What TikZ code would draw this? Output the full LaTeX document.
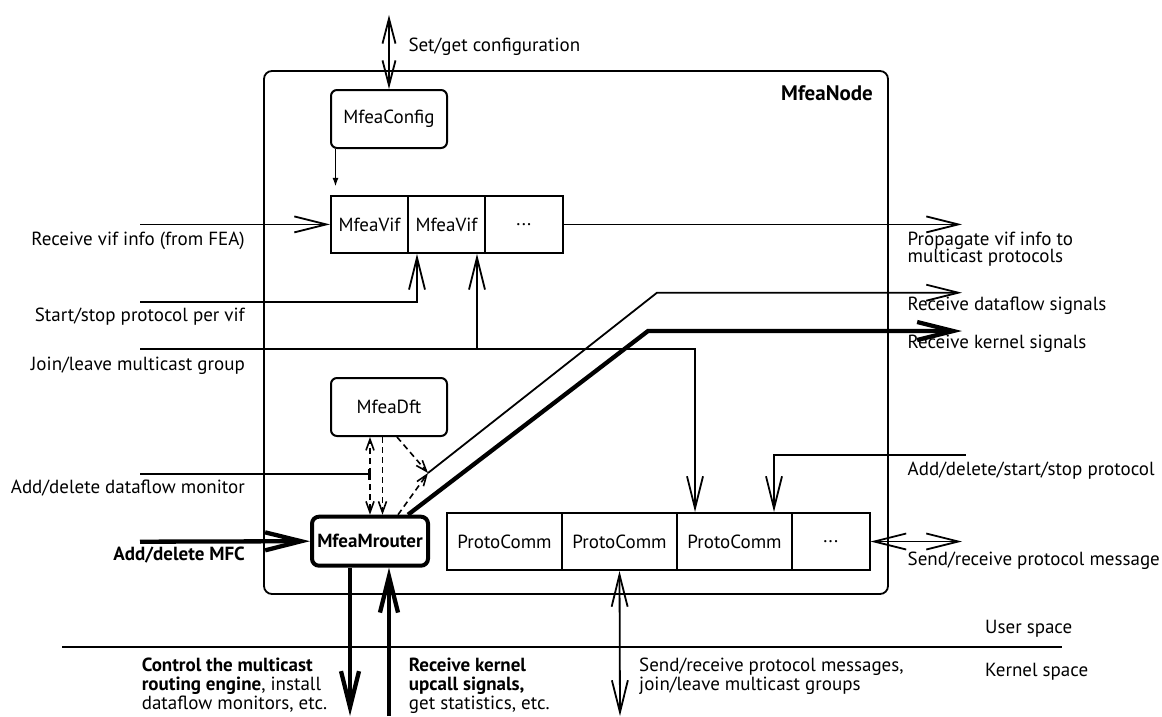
\documentclass[tikz,border=0pt]{standalone}
\usepackage{fontspec}
\setmainfont{PT Sans}
\usetikzlibrary{arrows.meta,calc}
\newcommand\lbl{\fontsize{19}{19}\selectfont}
\begin{document}
\begin{tikzpicture}[x=1pt,y=-1pt,
  ln/.style={line width=1.8pt},
  thk/.style={line width=4.3pt},
  dsh/.style={line width=1.6pt, dash pattern=on 6pt off 4pt},
  barb/.style={-{Straight Barb[length=32pt,width=16pt]}},
  barbs/.style={{Straight Barb[length=32pt,width=16pt]}-{Straight Barb[length=32pt,width=16pt]}},
  cfgbarbs/.style={{Straight Barb[length=25pt,width=13pt]}-{Straight Barb[length=25pt,width=13pt]}},
  thkbarb/.style={-{Straight Barb[length=36pt,width=18pt]}},
  smallbarb/.style={-{Straight Barb[length=11pt,width=8pt]}},
  rbox/.style={draw, line width=2pt, rounded corners=6pt, font=\lbl, inner sep=0pt,
    minimum width=116pt, minimum height=58pt},
  cell/.style={draw, line width=2pt, font=\lbl, inner sep=0pt, minimum height=57pt},
  txt/.style={font=\lbl, inner sep=0pt},
  txtb/.style={font=\lbl\bfseries, inner sep=0pt},
]
\useasboundingbox (0,0) rectangle (1162,717);

% the MfeaNode frame and its title
\node[draw, line width=1.8pt, rounded corners=8pt, minimum width=624pt, minimum height=523pt]
  (frame) at (576,332.5) {};
\node[anchor=base east, inner sep=0pt, font=\fontsize{21}{22}\selectfont\bfseries]
  (title) at (873,100) {MfeaNode};

% component boxes
\node[rbox] (cfg) at (389,119) {MfeaConfig};
\node[cell, minimum width=77pt]   (vif1) at (369.5,224.4) {MfeaVif};
\node[cell, minimum width=77pt]   (vif2) at (446.5,224.4) {MfeaVif};
\node[cell, minimum width=77.6pt] (vif3) at (523.8,224.4) {...};
\node[rbox] (dft) at (389,407) {MfeaDft};
\node[draw, line width=4pt, rounded corners=7pt, font=\lbl\bfseries, inner sep=0pt,
  minimum width=116pt, minimum height=49pt] (mr) at (370,541.2) {MfeaMrouter};
\node[cell, minimum width=115pt]  (pc1) at (504.5,541.5) {ProtoComm};
\node[cell, minimum width=115pt]  (pc2) at (619.5,541.5) {ProtoComm};
\node[cell, minimum width=115pt]  (pc3) at (734.5,541.5) {ProtoComm};
\node[cell, minimum width=77.5pt] (pc4) at (830.75,541.5) {...};

% free ends of the connectors
\coordinate (cfgTop) at (389,15);
\coordinate (inVif)  at (140,224.4);
\coordinate (outVif) at (962,224.4);
\coordinate (inSS)   at (140,301.7);
\coordinate (inJoin) at (140,349);
\coordinate (inMon)  at (140,474);
\coordinate (mon)    at (370,474);
\coordinate (inMFC)  at (140,541.7);
\coordinate (dj)     at (428,473);
\coordinate (dc)     at (657,292.7);
\coordinate (outD)   at (962,292.7);
\coordinate (kc)     at (648,331);
\coordinate (outK)   at (962,331);
\coordinate (inADSS) at (965.6,455);
\coordinate (outSR)  at (962,541.5);
\coordinate (kSR)    at (620,716);
\coordinate (kDown)  at (350,716);
\coordinate (kUp)    at (389,716);
\coordinate (ukL)    at (62,646.7);
\coordinate (ukR)    at (1062,646.7);

% configuration
\draw[ln, cfgbarbs] (cfgTop) -- (cfg.north);
\draw[ln, -{Latex[length=9pt,width=6pt]}] ($(cfg.south west)+(5.5,0)$) -- ($(vif1.north west)+(5.5,-8)$);

% vif information
\draw[ln, barb] (inVif) -- (vif1.west);
\draw[ln, barb] (vif3.east) -- (outVif);
\draw[ln, barb] (inSS) -| ($(vif2.south west)+(10,0)$);
\draw[ln, barb] (inJoin) -| ($(pc3.north west)+(19,0)$);
\coordinate (jb) at ($(vif2.south east)+(-9,0)$);
\draw[ln, barb] (jb |- inJoin) -- (jb);

% signals towards the protocols
\draw[ln, barb] (dj) -- (dc) -- (outD);
\draw[thk, thkbarb] ($(mr.north west)+(98,0)$) -- (kc) -- (outK);

% dataflow monitors
\draw[ln, -{Bar[width=11pt]}] (inMon) -- (mon);
\draw[dsh, smallbarb] (mon) -- (mon |- dft.south);
\draw[dsh, smallbarb] (mon) -- (mon |- mr.north);
\coordinate (dmid) at ($(dft.south west)+(52.5,0)$);
\draw[dsh, smallbarb] (dmid) -- (dmid |- mr.north);
\draw[dsh, smallbarb] ($(dft.south west)+(67,0)$) -- (dj);
\draw[dsh, smallbarb] ($(mr.north west)+(88,0)$) -- (dj);

% MFC and kernel paths
\draw[thk, thkbarb] (inMFC) -- (mr.west);
\draw[thk, thkbarb] (mr.south -| kDown) -- (kDown);
\draw[thk, thkbarb] (kUp) -- (mr.south -| kUp);

% protocol communication
\draw[ln, barb] (inADSS) -| ($(pc3.north east)+(-19,0)$);
\draw[ln, barbs] (pc4.east) -- (outSR);
\draw[ln, barbs] (pc2.south) -- (kSR);

% user / kernel boundary
\draw[ln] (ukL) -- (ukR);

% labels
\node[txt, anchor=base west] (lcfg) at (408.3,51.7) {Set/get configuration};
\node[txt, anchor=base east] (lvif) at (245,245) {Receive vif info (from FEA)};
\node[txt, anchor=base east] (lss) at (245,321.7) {Start/stop protocol per vif};
\node[txt, anchor=base east] (ljoin) at (245,370) {Join/leave multicast group};
\node[txt, anchor=base east] (lmon) at (245,493.3) {Add/delete dataflow monitor};
\node[txtb, anchor=base east] (lmfc) at (245,560) {Add/delete MFC};

\node[txt, anchor=base west] (lprop1) at (907.5,245) {Propagate vif info to};
\node[txt, anchor=base west] (lprop2) at (907.5,262.7) {multicast protocols};
\node[txt, anchor=base west] (ldf) at (907.5,310) {Receive dataflow signals};
\node[txt, anchor=base west] (lks) at (907.5,348.3) {Receive kernel signals};
\node[txt, anchor=base west] (ladss) at (907.5,475) {Add/delete/start/stop protocol};
\node[txt, anchor=base west] (lsr) at (907.5,565) {Send/receive protocol message};
\node[txt, anchor=base west] (luser) at (985,633) {User space};
\node[txt, anchor=base west] (lkern) at (985,676.7) {Kernel space};

\node[txt, anchor=base west] (lctl1) at (141.6,671.7) {\bfseries Control the multicast};
\node[txt, anchor=base west] (lctl2) at (141.6,690.7) {\textbf{routing engine}, install};
\node[txt, anchor=base west] (lctl3) at (141.6,709.5) {dataflow monitors, etc.};
\node[txt, anchor=base west] (lup1) at (408.7,671.7) {\bfseries Receive kernel};
\node[txt, anchor=base west] (lup2) at (408.7,690.7) {\bfseries upcall signals,};
\node[txt, anchor=base west] (lup3) at (408.7,709.5) {get statistics, etc.};
\node[txt, anchor=base west] (lsrk1) at (639,671.7) {Send/receive protocol messages,};
\node[txt, anchor=base west] (lsrk2) at (639,690.7) {join/leave multicast groups};
\end{tikzpicture}
\end{document}
